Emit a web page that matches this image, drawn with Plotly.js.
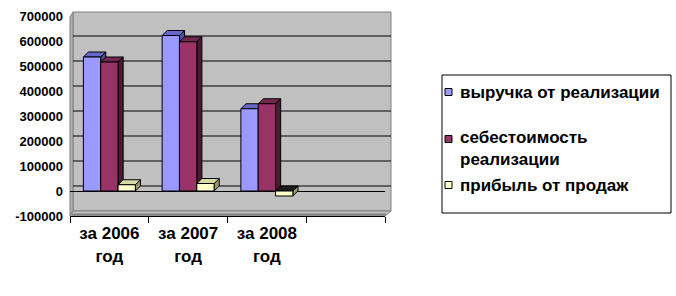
<!DOCTYPE html>
<html>
<head>
<meta charset="utf-8">
<script src="https://cdn.plot.ly/plotly-3.0.1.min.js"></script>
<style>html,body{margin:0;padding:0;background:#fff;}#chart{width:676px;height:296px;}</style>
</head>
<body>
<div id="chart"></div>
<script>
// ---- data ----
const categories = ['за 2006<br>год', 'за 2007<br>год', 'за 2008<br>год', ' '];
const seriesNames = ['выручка от реализации', 'себестоимость<br>реализации', 'прибыль от продаж'];
const revenue = [536000, 622000, 329000];
const cost = [516000, 597000, 349000];
const profit = [25000, 30000, -20000];
const yTickValues = [-100000, 0, 100000, 200000, 300000, 400000, 500000, 600000, 700000];
const yTickLabels = ['-100000', '0', '100000', '200000', '300000', '400000', '500000', '600000', '700000'];

// ---- styles ----
const frontColors = ['#9999FF', '#993366', '#FFFFCC'];
const topColors = ['#6666CC', '#732650', '#D9D9A6'];
const sideColors = ['#4D4D99', '#4D1A33', '#99996B'];
const negTopColor = '#1A1A1A';
const FONT = 'Arial, "Liberation Sans", sans-serif';

// plot area pixel frame
const PL = 70, PR = 385, PT = 16, PB = 216;
const W = 676, H = 296;
const xp = x => (x - PL) / (PR - PL);
const yp = y => (PB - y) / (PB - PT);

const bargap = 0.34;
const bw = (1 - bargap) / 3;
const DX = 0.065;      // depth in category units
const DY = 20000;      // depth in value units
const series = [revenue, cost, profit];

const traces = series.map((vals, j) => ({
  type: 'bar',
  name: seriesNames[j],
  x: categories.slice(0, vals.length),
  y: vals,
  marker: {color: frontColors[j], line: {color: '#000', width: 1}},
  showlegend: false,
  hoverinfo: 'skip'
}));

const shapes = [];
// back wall, left wall, floor (decoration)
shapes.push({type: 'path', xref: 'paper', yref: 'paper', layer: 'below',
  path: `M${xp(73)},${yp(12)} L${xp(391)},${yp(12)} L${xp(391)},${yp(211)} L${xp(73)},${yp(211)} Z`,
  fillcolor: '#C0C0C0', line: {color: '#808080', width: 1}});
shapes.push({type: 'path', xref: 'paper', yref: 'paper', layer: 'below',
  path: `M${xp(70)},${yp(17)} L${xp(73)},${yp(12)} L${xp(73)},${yp(211)} L${xp(70)},${yp(216)} Z`,
  fillcolor: '#B0B0B0', line: {color: '#808080', width: 1}});
shapes.push({type: 'path', xref: 'paper', yref: 'paper', layer: 'below',
  path: `M${xp(70)},${yp(216)} L${xp(385)},${yp(216)} L${xp(391)},${yp(211)} L${xp(73)},${yp(211)} Z`,
  fillcolor: '#C0C0C0', line: {color: '#808080', width: 1}});
shapes.push({type: 'line', xref: 'paper', yref: 'paper', layer: 'below',
  x0: xp(72), x1: xp(386), y0: yp(214.5), y1: yp(214.5), line: {color: '#808080', width: 2}});
// back-wall gridlines (shifted by depth)
const pxPerUnit = (PB - PT) / 800000;
const zeroPx = PB - 100000 * pxPerUnit;
for (let k = 0; k <= 6; k++) {
  const yy = zeroPx - 5 - k * 100000 * pxPerUnit;
  shapes.push({type: 'line', xref: 'paper', yref: 'paper', layer: 'below',
    x0: xp(73), x1: xp(391), y0: yp(yy), y1: yp(yy), line: {color: '#000', width: 1}});
}
// 3D faces of bars, computed from data
for (let i = 0; i < 3; i++) {
  for (let j = 0; j < 3; j++) {
    const v = series[j][i];
    const c = i + (j - 1) * bw;
    const x0 = c - bw / 2, x1 = c + bw / 2;
    const top = Math.max(v, 0), bot = Math.min(v, 0);
    shapes.push({type: 'path', xref: 'x', yref: 'y', layer: 'between',
      path: `M${x1},${bot} L${x1},${top} L${x1 + DX},${top + DY} L${x1 + DX},${bot + DY} Z`,
      fillcolor: sideColors[j], line: {color: '#000', width: 1}});
    shapes.push({type: 'path', xref: 'x', yref: 'y', layer: 'between',
      path: `M${x0},${top} L${x1},${top} L${x1 + DX},${top + DY} L${x0 + DX},${top + DY} Z`,
      fillcolor: v < 0 ? negTopColor : topColors[j], line: {color: '#000', width: 1}});
  }
}
// legend (custom drawn)
shapes.push({type: 'rect', xref: 'paper', yref: 'paper', layer: 'above',
  x0: xp(442), x1: xp(671), y0: yp(75), y1: yp(213), line: {color: '#000', width: 1}, fillcolor: 'rgba(0,0,0,0)'});
const legendY = [92, 139, 185];
const textY = [92, 148.5, 185];
const annotations = [];
for (let j = 0; j < 3; j++) {
  shapes.push({type: 'rect', xref: 'paper', yref: 'paper', layer: 'above',
    x0: xp(445), x1: xp(452), y0: yp(legendY[j] + 3.5), y1: yp(legendY[j] - 3.5),
    fillcolor: frontColors[j], line: {color: '#000', width: 1}});
  annotations.push({xref: 'paper', yref: 'paper', x: xp(458), y: yp(textY[j]),
    xanchor: 'left', yanchor: 'middle', align: 'left', showarrow: false,
    text: seriesNames[j], font: {family: FONT, size: 17, color: '#000', weight: 'bold'}});
}

const layout = {
  width: W, height: H,
  margin: {l: PL, r: W - PR, t: PT, b: H - PB, pad: 0},
  paper_bgcolor: '#fff', plot_bgcolor: 'rgba(0,0,0,0)',
  barmode: 'group', bargap: bargap, bargroupgap: 0,
  showlegend: false,
  font: {family: FONT, color: '#000'},
  xaxis: {
    type: 'category', categoryorder: 'array', categoryarray: categories,
    range: [-0.5, 3.5], showgrid: false, zeroline: false,
    showline: true, linecolor: '#000', linewidth: 1,
    ticks: 'outside', ticklen: 6, tickcolor: '#000', tickson: 'boundaries',
    ticklabelstandoff: 2,
    tickfont: {family: FONT, size: 17, color: '#000', weight: 'bold'},
    fixedrange: true
  },
  yaxis: {
    range: [-100000, 700000], tickmode: 'array', tickvals: yTickValues, ticktext: yTickLabels,
    showgrid: false, zeroline: true, zerolinecolor: '#000', zerolinewidth: 1,
    showline: false, ticks: '', ticklabelstandoff: 6,
    tickfont: {family: FONT, size: 13, color: '#000', weight: 'bold'},
    fixedrange: true
  },
  shapes: shapes,
  annotations: annotations
};

Plotly.newPlot('chart', traces, layout, {staticPlot: true, displayModeBar: false});
</script>
</body>
</html>
